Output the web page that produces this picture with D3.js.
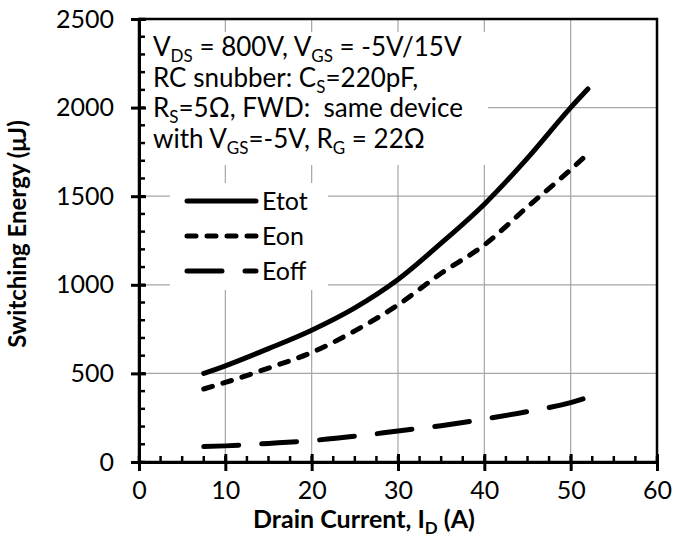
<!DOCTYPE html>
<html>
<head>
<meta charset="utf-8">
<script src="https://cdn.jsdelivr.net/npm/d3@7"></script>
<style>
  body { margin: 0; background: #fff; }
  text { font-family: Lato, "Open Sans", sans-serif; fill: #000; }
</style>
</head>
<body>
<svg width="673" height="548"></svg>
<script>
// drain current (A)
const current = [7.5, 10, 15, 20, 25, 30, 35, 40, 45, 50, 52];
// switching energy (uJ)
const etot = [500, 543, 640, 744, 870, 1030, 1235, 1455, 1715, 2000, 2105];
const eon = [412, 449, 530, 618, 740, 887, 1065, 1225, 1440, 1650, 1740];
const eoff = [87, 91, 105, 121, 145, 175, 205, 242, 285, 335, 365];
const xTicks = [0, 10, 20, 30, 40, 50, 60];
const yTicks = [0, 500, 1000, 1500, 2000, 2500];

const series = [
  { name: "Etot", values: etot, dash: null },
  { name: "Eon", values: eon, dash: "9,11" },
  { name: "Eoff", values: eoff, dash: "35,23" },
];

const svg = d3.select("svg");
const pLeft = 139, pRight = 657, pTop = 19, pBottom = 462;

const x = d3.scaleLinear().domain([0, 60]).range([pLeft, pRight]);
const y = d3.scaleLinear().domain([0, 2500]).range([pBottom, pTop]);

// grid
svg.append("g")
  .selectAll("line")
  .data(xTicks.slice(1, -1))
  .join("line")
  .attr("x1", (d) => x(d)).attr("x2", (d) => x(d))
  .attr("y1", pTop).attr("y2", pBottom)
  .attr("stroke", "#a6a6a6").attr("stroke-width", 1.2);
svg.append("g")
  .selectAll("line")
  .data(yTicks.slice(1, -1))
  .join("line")
  .attr("x1", pLeft).attr("x2", pRight)
  .attr("y1", (d) => y(d)).attr("y2", (d) => y(d))
  .attr("stroke", "#a6a6a6").attr("stroke-width", 1.2);

// white boxes behind the note and legend
svg.append("rect").attr("x", 146).attr("y", 32).attr("width", 342).attr("height", 133).attr("fill", "#fff");
svg.append("rect").attr("x", 170).attr("y", 183).attr("width", 158).attr("height", 107).attr("fill", "#fff");

// frame
svg.append("rect")
  .attr("x", pLeft).attr("y", pTop)
  .attr("width", pRight - pLeft).attr("height", pBottom - pTop)
  .attr("fill", "none").attr("stroke", "#000").attr("stroke-width", 2.5);

// minor ticks (inside)
svg.append("g")
  .selectAll("line")
  .data(d3.range(0, 60.01, 2.5))
  .join("line")
  .attr("x1", (d) => x(d)).attr("x2", (d) => x(d))
  .attr("y1", pBottom).attr("y2", pBottom - 6)
  .attr("stroke", "#000").attr("stroke-width", 2.5);
svg.append("g")
  .selectAll("line")
  .data(d3.range(0, 2500.01, 100))
  .join("line")
  .attr("x1", pLeft).attr("x2", pLeft + 6)
  .attr("y1", (d) => y(d)).attr("y2", (d) => y(d))
  .attr("stroke", "#000").attr("stroke-width", 2.5);

// axes with crossing major ticks
const xAxis = svg.append("g")
  .attr("transform", `translate(0,${pBottom})`)
  .call(d3.axisBottom(x).tickValues(xTicks).tickFormat(d3.format("d"))
    .tickSize(9).tickPadding(10).tickSizeOuter(0));
xAxis.select(".domain").attr("stroke-width", 3);
xAxis.selectAll(".tick line").attr("y1", -8).attr("stroke-width", 3);
xAxis.selectAll(".tick text").attr("font-size", 25).attr("font-family", "Lato");

const yAxis = svg.append("g")
  .attr("transform", `translate(${pLeft},0)`)
  .call(d3.axisLeft(y).tickValues(yTicks).tickFormat(d3.format("d"))
    .tickSize(8).tickPadding(17).tickSizeOuter(0));
yAxis.select(".domain").attr("stroke-width", 3);
yAxis.selectAll(".tick line").attr("x1", 7).attr("stroke-width", 3);
yAxis.selectAll(".tick text").attr("font-size", 25).attr("font-family", "Lato");

// curves
const line = d3.line()
  .x((d) => x(d[0]))
  .y((d) => y(d[1]))
  .curve(d3.curveMonotoneX);

svg.append("g")
  .selectAll("path")
  .data(series)
  .join("path")
  .attr("d", (s) => line(current.map((c, i) => [c, s.values[i]])))
  .attr("fill", "none")
  .attr("stroke", "#000")
  .attr("stroke-width", 5)
  .attr("stroke-linecap", "round")
  .attr("stroke-dasharray", (s) => s.dash);

// legend
const legend = svg.append("g")
  .selectAll("g")
  .data(series)
  .join("g")
  .attr("transform", (d, i) => `translate(0,${201 + i * 35})`);
legend.append("line")
  .attr("x1", 187).attr("x2", 256)
  .attr("stroke", "#000").attr("stroke-width", 5)
  .attr("stroke-linecap", "round")
  .attr("stroke-dasharray", (s) => s.dash);
legend.append("text")
  .attr("x", 262).attr("y", 9)
  .attr("font-size", 25)
  .text((s) => s.name);

// note
const note = svg.append("g").attr("font-size", 26);
function sub(t, s) {
  t.append("tspan").attr("font-size", 17).attr("dy", 6).text(s);
}
function norm(t, s) {
  t.append("tspan").attr("dy", -6).text(s);
}
let t = note.append("text").attr("x", 153).attr("y", 56);
t.append("tspan").text("V");
sub(t, "DS");
norm(t, " = 800V, V");
sub(t, "GS");
norm(t, " = -5V/15V");

t = note.append("text").attr("x", 153).attr("y", 86.5);
t.append("tspan").text("RC snubber: C");
sub(t, "S");
norm(t, "=220pF,");

t = note.append("text").attr("x", 153).attr("y", 117).style("white-space", "pre");
t.append("tspan").text("R");
sub(t, "S");
norm(t, "=5Ω, FWD:  same device");

t = note.append("text").attr("x", 153).attr("y", 147.5);
t.append("tspan").text("with V");
sub(t, "GS");
norm(t, "=-5V, R");
sub(t, "G");
norm(t, " = 22Ω");

// axis titles
t = svg.append("text")
  .attr("x", 364).attr("y", 528)
  .attr("text-anchor", "middle")
  .attr("font-size", 25).attr("font-weight", "bold");
t.append("tspan").text("Drain Current, I");
sub(t, "D");
norm(t, " (A)");

svg.append("text")
  .attr("transform", "translate(26,234) rotate(-90)")
  .attr("text-anchor", "middle")
  .attr("font-size", 24).attr("font-weight", "bold")
  .text("Switching Energy (μJ)");
</script>
</body>
</html>
